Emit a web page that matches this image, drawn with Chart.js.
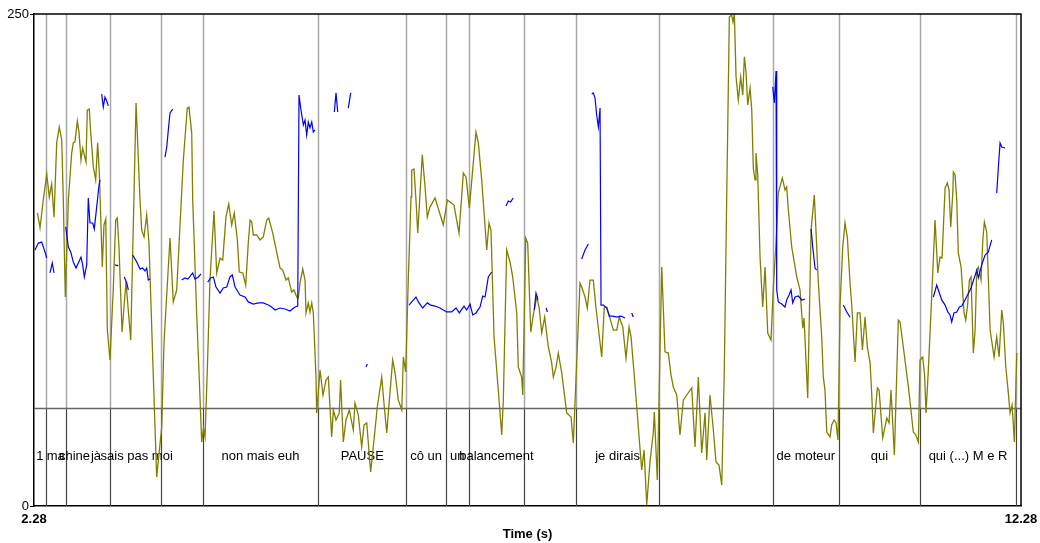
<!DOCTYPE html>
<html lang="fr">
  <head>
    <meta charset="UTF-8" />
    <title>Pitch / intensité</title>
    <script src="https://cdn.jsdelivr.net/npm/chart.js"></script>
    <style>
      html, body { margin: 0; padding: 0; background: #fff; }
      canvas { display: block; }
    </style>
  </head>
  <body>
    <canvas id="chart" width="1040" height="543"></canvas>

    <script>
      // -------- données -------- //
      const xRange = [2.28, 12.28];
      const yRange = [0, 250];
      const xTickLabels = ["2.28", "12.28"];
      const yTickLabels = ["0", "250"];
      const tierLineValue = 50;   // séparation courbe / tier
      const tierTextValue = 25;

      // intensité (olive) : [temps (s), valeur]
      const intensityPoints = [
        [2.315,148.9],[2.341,141.3],[2.374,155.5],[2.409,168.7],[2.435,157.0],[2.459,163.6],[2.483,146.8],[2.510,184.5],[2.536,192.6],[2.561,186.0],
        [2.577,155.5],[2.597,106.2],[2.628,155.5],[2.662,179.4],[2.678,184.5],[2.695,185.0],[2.719,195.6],[2.736,190.0],[2.756,175.8],[2.773,181.9],
        [2.787,178.9],[2.807,174.8],[2.820,201.2],[2.840,201.7],[2.855,189.5],[2.881,172.3],[2.905,165.7],[2.925,184.5],[2.942,169.2],[2.972,121.4],
        [2.989,142.8],[3.007,145.8],[3.023,89.4],[3.050,74.2],[3.084,111.3],[3.108,145.3],[3.124,146.3],[3.141,131.6],[3.172,88.4],[3.212,113.8],
        [3.260,84.3],[3.314,204.8],[3.354,155.5],[3.371,140.2],[3.395,136.7],[3.422,147.9],[3.445,133.6],[3.489,65.5],[3.523,14.7],[3.574,40.1],
        [3.597,82.8],[3.658,136.2],[3.691,103.7],[3.726,109.8],[3.793,175.8],[3.833,202.2],[3.850,202.7],[3.878,189.5],[3.888,155.5],[3.928,98.1],
        [3.955,64.0],[3.979,32.5],[3.997,39.6],[4.013,35.1],[4.036,69.1],[4.063,114.8],[4.104,149.9],[4.131,118.4],[4.165,126.0],[4.192,125.0],
        [4.225,146.8],[4.253,153.5],[4.283,142.8],[4.309,148.9],[4.340,135.2],[4.360,118.9],[4.395,118.4],[4.425,112.3],[4.451,133.6],[4.469,145.3],
        [4.486,144.3],[4.502,137.7],[4.536,137.7],[4.570,135.2],[4.603,136.7],[4.638,145.3],[4.658,146.3],[4.699,138.7],[4.773,120.9],[4.800,119.9],
        [4.833,114.8],[4.857,115.9],[4.891,108.7],[4.914,109.8],[4.942,106.2],[4.958,105.7],[4.975,113.3],[5.003,120.4],[5.026,114.8],[5.036,98.1],
        [5.059,103.2],[5.076,98.6],[5.094,103.2],[5.110,98.1],[5.137,65.5],[5.144,47.3],[5.178,69.1],[5.208,56.4],[5.239,64.0],[5.262,65.5],
        [5.296,35.1],[5.313,48.8],[5.340,43.7],[5.373,47.3],[5.386,64.0],[5.414,32.5],[5.441,43.7],[5.475,48.8],[5.515,38.6],[5.532,52.3],
        [5.566,46.2],[5.600,30.0],[5.624,41.2],[5.651,42.2],[5.691,17.3],[5.735,38.6],[5.758,50.3],[5.803,65.5],[5.829,50.3],[5.854,37.1],
        [5.870,47.3],[5.914,74.2],[5.938,67.6],[5.971,53.9],[6.006,48.8],[6.022,75.7],[6.046,68.1],[6.072,114.8],[6.100,157.0],[6.107,170.7],
        [6.130,171.2],[6.150,155.5],[6.168,138.7],[6.214,178.4],[6.242,162.1],[6.265,146.8],[6.292,151.9],[6.343,156.5],[6.387,149.4],[6.427,142.8],
        [6.468,155.5],[6.495,154.5],[6.535,152.9],[6.586,138.7],[6.630,169.2],[6.657,167.2],[6.691,151.4],[6.758,190.0],[6.782,184.5],[6.816,165.7],
        [6.867,130.1],[6.890,143.8],[6.910,140.2],[6.941,85.9],[6.968,69.1],[7.019,36.1],[7.035,53.9],[7.069,130.1],[7.103,124.0],[7.130,116.4],
        [7.171,98.1],[7.187,70.6],[7.221,65.5],[7.232,56.4],[7.262,136.2],[7.282,133.6],[7.313,88.4],[7.339,97.1],[7.373,106.2],[7.397,101.1],
        [7.424,87.9],[7.454,96.0],[7.491,80.8],[7.525,72.7],[7.542,65.5],[7.569,70.6],[7.592,77.7],[7.627,67.6],[7.677,47.3],[7.721,45.2],
        [7.744,32.0],[7.761,52.3],[7.812,113.3],[7.829,111.3],[7.863,106.2],[7.886,100.6],[7.913,114.8],[7.947,114.8],[7.974,100.6],[8.032,75.7],
        [8.058,101.1],[8.083,101.1],[8.150,89.4],[8.184,89.4],[8.210,96.0],[8.245,91.0],[8.278,75.2],[8.309,91.0],[8.329,85.9],[8.359,68.1],
        [8.437,18.3],[8.461,28.5],[8.488,0.5],[8.521,22.4],[8.555,37.6],[8.565,47.8],[8.595,13.2],[8.605,35.1],[8.616,62.5],[8.640,121.4],
        [8.673,78.3],[8.707,77.7],[8.734,66.6],[8.757,60.5],[8.792,56.4],[8.825,36.1],[8.859,53.9],[8.893,56.4],[8.944,60.0],[8.977,30.0],
        [9.011,65.5],[9.045,26.9],[9.079,47.3],[9.096,23.4],[9.129,56.4],[9.163,38.6],[9.190,22.4],[9.220,20.8],[9.248,10.7],[9.274,69.1],
        [9.298,155.5],[9.325,248.5],[9.349,249.5],[9.362,245.9],[9.376,250],[9.393,218.0],[9.416,206.3],[9.440,218.0],[9.461,208.8],[9.477,228.2],
        [9.494,220.5],[9.511,203.8],[9.535,212.4],[9.552,201.2],[9.568,171.7],[9.585,165.7],[9.595,179.4],[9.613,168.2],[9.636,126.5],[9.663,101.1],
        [9.687,121.4],[9.714,87.9],[9.747,84.3],[9.771,111.3],[9.798,133.6],[9.821,159.0],[9.862,166.7],[9.889,160.6],[9.906,162.1],[9.923,150.4],
        [9.957,131.6],[9.991,121.4],[10.008,116.4],[10.041,109.8],[10.069,90.4],[10.082,95.5],[10.119,54.9],[10.153,140.2],[10.186,158.0],[10.227,113.3],
        [10.261,85.9],[10.277,65.5],[10.294,58.9],[10.312,37.6],[10.345,35.1],[10.362,41.2],[10.386,43.7],[10.406,42.2],[10.426,33.5],[10.447,102.1],
        [10.474,131.6],[10.497,143.8],[10.521,136.2],[10.548,113.3],[10.565,102.1],[10.599,73.2],[10.622,98.1],[10.649,98.1],[10.673,79.3],[10.700,96.0],
        [10.723,80.8],[10.751,72.7],[10.768,56.4],[10.784,37.1],[10.825,60.0],[10.842,58.9],[10.879,34.6],[10.920,44.7],[10.943,42.2],[10.963,58.9],
        [10.997,25.9],[11.037,94.5],[11.055,93.5],[11.085,81.8],[11.139,60.5],[11.189,37.6],[11.214,36.1],[11.240,32.5],[11.257,74.2],[11.284,75.7],
        [11.303,66.6],[11.318,47.3],[11.341,69.1],[11.386,118.4],[11.409,145.3],[11.437,118.4],[11.460,126.5],[11.480,126.0],[11.511,161.6],[11.534,164.1],
        [11.551,160.6],[11.568,141.8],[11.589,159.0],[11.595,169.7],[11.612,168.2],[11.629,155.5],[11.645,128.6],[11.673,121.4],[11.703,98.1],[11.720,94.5],
        [11.739,102.1],[11.757,114.8],[11.774,116.4],[11.797,77.7],[11.815,89.4],[11.832,119.9],[11.848,121.4],[11.875,114.8],[11.893,135.2],[11.909,144.3],
        [11.933,139.2],[11.967,89.4],[12.007,75.7],[12.034,85.9],[12.058,75.7],[12.085,99.6],[12.101,93.0],[12.126,70.6],[12.149,58.9],[12.169,47.3],
        [12.190,51.3],[12.213,32.5],[12.237,77.7]
      ];

      // pitch (bleu) : segments séparés, [temps (s), Hz]
      const pitchSegments = [
        [[2.290,130.1],[2.324,133.6],[2.358,134.1],[2.391,129.1],[2.409,126.0]],
        [[2.442,118.4],[2.465,123.5],[2.483,118.4]],
        [[2.601,141.8],[2.628,131.6],[2.652,129.1],[2.678,124.0],[2.706,120.9],[2.729,123.5],[2.756,126.5],[2.773,122.5],[2.790,116.4],[2.814,122.5],
         [2.830,156.5],[2.847,143.8],[2.875,143.8],[2.891,140.8],[2.915,151.9],[2.939,163.1],[2.949,165.7]],
        [[2.966,209.3],[2.982,202.7],[2.999,207.8],[3.017,205.8],[3.033,203.3]],
        [[3.101,122.5],[3.134,122.0]],
        [[3.195,116.4],[3.219,113.3],[3.236,109.8]],
        [[3.280,127.5],[3.321,124.0],[3.354,120.4],[3.381,120.9],[3.405,119.4],[3.422,120.9],[3.438,114.8],[3.455,115.3]],
        [[3.607,177.3],[3.625,182.4],[3.641,191.1],[3.658,199.7],[3.685,201.7]],
        [[3.777,114.8],[3.810,115.9],[3.840,115.3],[3.888,118.4],[3.911,115.3],[3.945,116.4],[3.972,117.9]],
        [[4.040,113.8],[4.070,115.9],[4.097,116.4],[4.124,111.3],[4.165,108.2],[4.198,110.8],[4.233,111.3],[4.266,116.4],[4.289,117.4],[4.317,111.3],
         [4.367,107.2],[4.418,106.2],[4.451,103.7],[4.502,102.6],[4.553,103.2],[4.603,103.2],[4.654,102.1],[4.688,101.1],[4.722,99.6],[4.773,100.6],
         [4.823,100.1],[4.874,99.1],[4.924,101.1],[4.952,101.6],[4.965,208.8],[4.985,201.2],[5.009,193.6],[5.026,196.1],[5.043,188.5],[5.059,195.1],
         [5.076,192.1],[5.094,195.1],[5.110,190.0],[5.127,191.1]],
        [[5.323,200.2],[5.340,209.9],[5.357,200.2]],
        [[5.464,202.2],[5.489,209.9]],
        [[5.644,70.6],[5.657,72.2]],
        [[6.080,102.1],[6.107,103.7],[6.150,106.2],[6.174,103.7],[6.218,100.6],[6.265,103.2],[6.299,102.1],[6.343,101.6],[6.394,100.6],[6.461,98.6],
         [6.512,98.6],[6.556,100.6],[6.589,98.1],[6.637,101.6],[6.664,99.6],[6.698,102.6],[6.725,97.1],[6.758,98.1],[6.799,101.1],[6.826,106.7],
         [6.850,106.2],[6.883,116.4],[6.917,118.9]],
        [[7.062,152.4],[7.086,155.0],[7.108,154.5],[7.136,156.5]],
        [[7.349,99.6],[7.366,108.2],[7.387,104.7]],
        [[7.468,100.6],[7.481,98.6]],
        [[7.829,125.5],[7.863,130.1],[7.896,133.1]],
        [[7.931,209.3],[7.947,209.9],[7.964,207.3],[7.981,198.7],[7.998,192.6],[8.015,202.2],[8.025,102.1],[8.048,102.1],[8.083,100.6],[8.109,96.5],
         [8.146,96.5],[8.184,96.0],[8.228,96.5],[8.268,95.5]],
        [[8.336,98.1],[8.352,96.0]],
        [[9.765,212.9],[9.781,204.8],[9.798,221.0],[9.805,109.8],[9.821,103.7],[9.856,102.6],[9.889,101.1],[9.906,104.7],[9.930,107.2],[9.950,109.8],
         [9.967,103.2],[9.991,106.2],[10.024,106.7],[10.059,104.7],[10.092,105.2]],
        [[10.153,140.8],[10.170,131.6],[10.193,120.9],[10.210,119.9]],
        [[10.480,102.1],[10.515,98.6],[10.548,96.0]],
        [[11.392,106.2],[11.426,112.3],[11.453,108.2],[11.477,104.7],[11.511,102.1],[11.538,98.6],[11.561,97.1],[11.578,93.5],[11.601,98.1],[11.629,98.6],
         [11.655,101.1],[11.680,101.6],[11.723,105.7],[11.774,110.8],[11.832,119.9],[11.848,115.9],[11.882,122.5],[11.916,127.5],[11.949,129.1],[11.983,135.2]],
        [[12.034,159.0],[12.052,173.3],[12.068,184.5],[12.085,182.4],[12.118,181.9]]
      ];

      // tier de texte
      const tierBoundaries = [2.399, 2.601, 3.053, 3.564, 3.989, 5.160, 6.052, 6.454, 6.684, 7.245, 7.774, 8.612, 9.764, 10.436, 11.254, 12.232];
      const tierLabels = ["1", "ma", "chine", "jà", "sais pas moi", "non mais euh", "PAUSE", "cô un", "un", "balancement", "je dirais", "de moteur", "qui", "qui (...) M e R"];
      const tierCenters = [2.34, 2.50, 2.69, 2.908, 3.32, 4.575, 5.606, 6.253, 6.569, 6.965, 8.193, 10.10, 10.845, 11.743];

      // -------- préparation -------- //
      const intensityData = intensityPoints.map(([x, y]) => ({ x, y }));
      const pitchData = [];
      pitchSegments.forEach((seg) => {
        seg.forEach(([x, y]) => pitchData.push({ x, y }));
        pitchData.push({ x: seg[seg.length - 1][0] + 0.001, y: null });
      });

      const FONT = "'Liberation Sans', Arial, Helvetica, sans-serif";

      // -------- plugin tier + cadre -------- //
      const tierPlugin = {
        id: "tier",
        beforeDatasetsDraw(chart) {
          const { ctx, chartArea, scales } = chart;
          const xs = scales.x, ys = scales.y;
          const yTop = ys.getPixelForValue(yRange[1]);
          const yMid = ys.getPixelForValue(tierLineValue);
          const yBot = ys.getPixelForValue(yRange[0]);
          ctx.save();
          // limites (partie haute grise)
          ctx.strokeStyle = "#a8a8a8";
          ctx.lineWidth = 1.5;
          tierBoundaries.forEach((t) => {
            const px = Math.round(xs.getPixelForValue(t)) + 0.5;
            ctx.beginPath(); ctx.moveTo(px, yTop); ctx.lineTo(px, yMid); ctx.stroke();
          });
          // limites (partie tier)
          ctx.strokeStyle = "#444";
          ctx.lineWidth = 1.2;
          tierBoundaries.forEach((t) => {
            const px = Math.round(xs.getPixelForValue(t)) + 0.5;
            ctx.beginPath(); ctx.moveTo(px, yMid); ctx.lineTo(px, yBot); ctx.stroke();
          });
          // ligne horizontale du tier
          ctx.strokeStyle = "#666";
          ctx.lineWidth = 1.5;
          ctx.beginPath();
          ctx.moveTo(chartArea.left, Math.round(yMid) + 0.5);
          ctx.lineTo(chartArea.right, Math.round(yMid) + 0.5);
          ctx.stroke();
          // textes
          ctx.fillStyle = "#000";
          ctx.font = "13px " + FONT;
          ctx.textAlign = "center";
          ctx.textBaseline = "middle";
          const yText = ys.getPixelForValue(tierTextValue);
          tierLabels.forEach((lab, i) => {
            ctx.fillText(lab, xs.getPixelForValue(tierCenters[i]), yText);
          });
          ctx.restore();
        },
        afterDraw(chart) {
          const { ctx, chartArea } = chart;
          ctx.save();
          ctx.strokeStyle = "#000";
          ctx.lineWidth = 1.5;
          ctx.beginPath();
          ctx.moveTo(chartArea.left, chartArea.top);
          ctx.lineTo(chartArea.right, chartArea.top);
          ctx.lineTo(chartArea.right, chartArea.bottom);
          ctx.stroke();
          ctx.restore();
        },
      };

      // -------- Chart.js -------- //
      const ctx = document.getElementById("chart").getContext("2d");
      new Chart(ctx, {
        type: "line",
        data: {
          datasets: [
            {
              label: "Pitch",
              data: pitchData,
              borderColor: "#0000ff",
              borderWidth: 1.2,
              pointRadius: 0,
              tension: 0,
              spanGaps: false,
            },
            {
              label: "Intensity",
              data: intensityData,
              borderColor: "#808000",
              borderWidth: 1.3,
              pointRadius: 0,
              tension: 0,
            },
          ],
        },
        options: {
          responsive: false,
          animation: false,
          layout: { padding: { top: 14, right: 19, left: 0, bottom: 0 } },
          plugins: { legend: { display: false }, tooltip: { enabled: false } },
          scales: {
            x: {
              type: "linear",
              min: xRange[0],
              max: xRange[1],
              afterBuildTicks: (s) => { s.ticks = xRange.map((v) => ({ value: v })); },
              afterFit: (s) => { s.height = 37; },
              grid: { display: false },
              border: { display: true, color: "#000", width: 1.5 },
              ticks: {
                autoSkip: false,
                maxRotation: 0,
                padding: -2,
                color: "#000",
                font: { family: FONT, size: 13, weight: "bold" },
                callback: (v, i) => xTickLabels[i],
              },
              title: {
                display: true,
                text: "Time (s)",
                color: "#000",
                font: { family: FONT, size: 13, weight: "bold" },
                padding: { top: 0, bottom: 1 },
              },
            },
            y: {
              min: yRange[0],
              max: yRange[1],
              afterBuildTicks: (s) => { s.ticks = yRange.map((v) => ({ value: v })); },
              afterFit: (s) => { s.width = 34; },
              grid: { drawOnChartArea: false, drawTicks: true, tickLength: 4, color: "#000" },
              border: { display: true, color: "#000", width: 1.5 },
              ticks: {
                autoSkip: false,
                padding: 1,
                color: "#000",
                font: { family: FONT, size: 13 },
                callback: (v, i) => yTickLabels[i],
              },
            },
          },
        },
        plugins: [tierPlugin],
      });
    </script>
  </body>
</html>
